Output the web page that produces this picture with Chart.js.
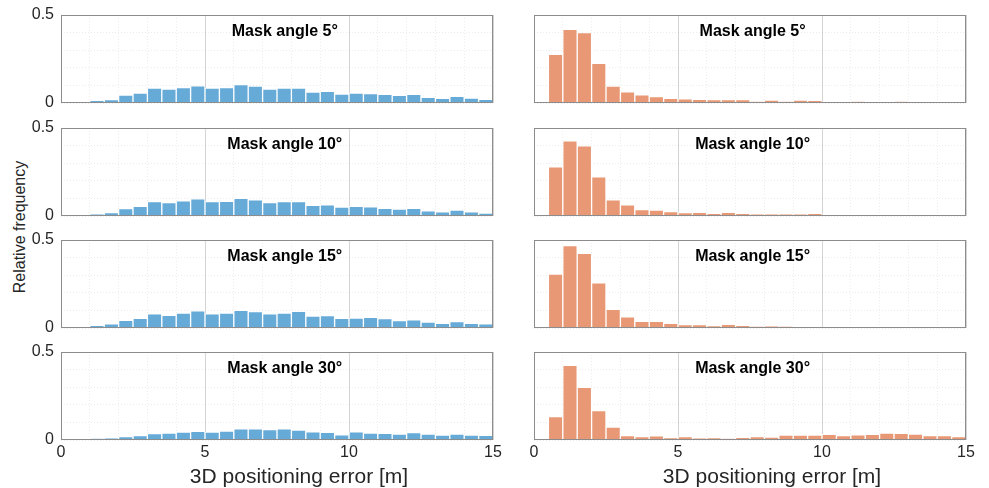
<!DOCTYPE html>
<html>
<head>
<meta charset="utf-8">
<script src="https://cdn.jsdelivr.net/npm/chart.js@4.4.1/dist/chart.umd.min.js"></script>
<style>
html, body { margin: 0; padding: 0; background: #fff; }
#fig { position: relative; width: 989px; height: 488px; overflow: hidden; background: #fff; }
#fig canvas { position: absolute; }
#ylabel {
    position: absolute; left: 20px; top: 227px;
    transform: translate(-50%, -50%) rotate(-90deg);
    font: 16px 'Liberation Sans', Arial, sans-serif; color: #262626; white-space: nowrap;
}
</style>
</head>
<body>
<div id="fig"><div id="ylabel">Relative frequency</div></div>
<script>
// bin centres of the 0.5 m histogram bins [m]
const binCenters = [0.25, 0.75, 1.25, 1.75, 2.25, 2.75, 3.25, 3.75, 4.25, 4.75,
    5.25, 5.75, 6.25, 6.75, 7.25, 7.75, 8.25, 8.75, 9.25, 9.75,
    10.25, 10.75, 11.25, 11.75, 12.25, 12.75, 13.25, 13.75, 14.25, 14.75];

const maskTitles = ['Mask angle 5°', 'Mask angle 10°', 'Mask angle 15°', 'Mask angle 30°'];
const xTickLabels = ['0', '5', '10', '15'];
const yTickLabels = ['0', '0.5'];
const xAxisTitle = '3D positioning error [m]';

// left column (blue)
const blue5 = [0, 0.006, 0.015, 0.020, 0.045, 0.057, 0.085, 0.079, 0.087, 0.098, 0.085, 0.087, 0.104, 0.096, 0.079, 0.085, 0.085, 0.062, 0.066, 0.051, 0.057, 0.053, 0.049, 0.043, 0.049, 0.032, 0.026, 0.038, 0.028, 0.021];
const blue10 = [0, 0.006, 0.011, 0.019, 0.042, 0.055, 0.082, 0.076, 0.086, 0.097, 0.082, 0.084, 0.101, 0.092, 0.076, 0.082, 0.082, 0.061, 0.063, 0.050, 0.055, 0.052, 0.044, 0.040, 0.044, 0.029, 0.023, 0.034, 0.023, 0.017];
const blue15 = [0, 0.006, 0.015, 0.023, 0.044, 0.055, 0.081, 0.072, 0.085, 0.098, 0.080, 0.085, 0.100, 0.093, 0.080, 0.085, 0.095, 0.068, 0.070, 0.055, 0.057, 0.061, 0.053, 0.042, 0.047, 0.034, 0.027, 0.036, 0.027, 0.023];
const blue30 = [0, 0.004, 0.008, 0.011, 0.019, 0.025, 0.036, 0.040, 0.045, 0.049, 0.045, 0.051, 0.063, 0.063, 0.059, 0.064, 0.057, 0.047, 0.044, 0.030, 0.047, 0.040, 0.038, 0.034, 0.042, 0.034, 0.028, 0.034, 0.028, 0.027];

// right column (orange)
const orange5 = [0, 0.276, 0.419, 0.400, 0.226, 0.096, 0.064, 0.047, 0.036, 0.026, 0.023, 0.021, 0.019, 0.019, 0.019, 0.008, 0.017, 0.008, 0.017, 0.015, 0.006, 0.006, 0.008, 0.002, 0.002, 0.008, 0.002, 0.002, 0.002, 0.002];
const orange10 = [0, 0.280, 0.427, 0.399, 0.223, 0.092, 0.063, 0.036, 0.034, 0.025, 0.019, 0.021, 0.015, 0.021, 0.015, 0.010, 0.011, 0.010, 0.011, 0.015, 0.004, 0.002, 0.006, 0.002, 0.006, 0.006, 0.002, 0.002, 0.006, 0.006];
const orange15 = [0, 0.307, 0.468, 0.424, 0.256, 0.106, 0.064, 0.038, 0.038, 0.027, 0.019, 0.019, 0.013, 0.021, 0.015, 0.009, 0.011, 0.009, 0.006, 0.006, 0.002, 0, 0.002, 0, 0.002, 0.002, 0, 0, 0, 0.002];
const orange30 = [0.006, 0.133, 0.424, 0.299, 0.167, 0.074, 0.025, 0.019, 0.023, 0.013, 0.019, 0.011, 0.013, 0.008, 0.015, 0.019, 0.017, 0.028, 0.028, 0.028, 0.032, 0.025, 0.030, 0.032, 0.040, 0.038, 0.034, 0.025, 0.025, 0.019];

const blueSeries = [blue5, blue10, blue15, blue30];
const orangeSeries = [orange5, orange10, orange15, orange30];

Chart.defaults.font.family = "'Liberation Sans', Arial, sans-serif";
Chart.defaults.color = '#262626';

const fig = document.getElementById('fig');
const rowTops = [3, 116, 228, 340];

// frame, panel title and (bottom row) x-axis label
const panelDecor = {
    id: 'panelDecor',
    afterDraw(chart, args, opts) {
        const { ctx, chartArea: a } = chart;
        const w = a.right - a.left;
        ctx.save();
        ctx.strokeStyle = '#8c8c8c';
        ctx.lineWidth = 1;
        ctx.strokeRect(Math.round(a.left) + 0.5, Math.round(a.top) + 0.5,
            Math.round(w) - 1, Math.round(a.bottom - a.top) - 1);
        ctx.fillStyle = '#000';
        ctx.font = "bold 16px 'Liberation Sans', Arial, sans-serif";
        ctx.textAlign = 'center';
        ctx.textBaseline = 'middle';
        ctx.fillText(opts.text, a.left + opts.titleFrac * w, a.top + 17);
        if (opts.xTitle) {
            ctx.fillStyle = '#262626';
            ctx.font = "21px 'Liberation Sans', Arial, sans-serif";
            ctx.fillText(opts.xTitle, a.left + w / 2 + 22, a.bottom + 37);
        }
        ctx.restore();
    }
};

function makePanel(col, row) {
    const bottomRow = row === 3;
    const canvas = document.createElement('canvas');
    const w = col === 0 ? 520 : 489;
    const h = bottomRow ? 148 : 112;
    canvas.width = w;
    canvas.height = h;
    canvas.style.left = (col === 0 ? 0 : 500) + 'px';
    canvas.style.top = rowTops[row] + 'px';
    fig.appendChild(canvas);

    const values = col === 0 ? blueSeries[row] : orangeSeries[row];
    const fill = col === 0 ? 'rgb(102,170,215)' : 'rgb(232,152,117)';

    new Chart(canvas, {
        type: 'bar',
        data: {
            datasets: [{
                data: binCenters.map((c, i) => ({ x: c, y: values[i] })),
                backgroundColor: fill,
                borderColor: 'rgba(255,255,255,0.85)',
                borderWidth: 1,
                barPercentage: 1,
                categoryPercentage: 1
            }]
        },
        options: {
            responsive: false,
            animation: false,
            devicePixelRatio: 1,
            layout: {
                padding: {
                    left: col === 0 ? 0 : 34,
                    right: col === 0 ? 27 : 23,
                    top: 12,
                    bottom: bottomRow ? 0 : 12
                }
            },
            plugins: {
                legend: { display: false },
                tooltip: { enabled: false },
                panelDecor: {
                    text: maskTitles[row],
                    titleFrac: col === 0 ? 0.518 : 0.506,
                    xTitle: bottomRow ? xAxisTitle : null
                }
            },
            scales: {
                x: {
                    type: 'linear',
                    min: 0,
                    max: 15,
                    offset: false,
                    afterFit: (s) => {
                        s.height = bottomRow ? 48 : 0;
                        s.paddingLeft = 0;
                        s.paddingRight = 0;
                    },
                    ticks: {
                        display: bottomRow,
                        stepSize: 1,
                        autoSkip: false,
                        maxRotation: 0,
                        padding: 3,
                        font: { size: 16 },
                        callback: (v) => (v % 5 === 0 ? xTickLabels[v / 5] : '')
                    },
                    grid: {
                        offset: false,
                        drawTicks: false,
                        color: (ctx) => (ctx.tick && ctx.tick.value % 5 === 0 ? 'rgba(0,0,0,0.17)' : 'rgba(0,0,0,0.07)')
                    },
                    border: {
                        display: false,
                        dash: (ctx) => (ctx.tick && ctx.tick.value % 5 === 0 ? [] : [1, 2])
                    }
                },
                y: {
                    min: 0,
                    max: 0.5,
                    afterFit: (s) => {
                        s.width = col === 0 ? 61 : 0;
                        s.paddingTop = 0;
                        s.paddingBottom = 0;
                    },
                    ticks: {
                        display: col === 0,
                        stepSize: 0.1,
                        autoSkip: false,
                        padding: 7,
                        font: { size: 16 },
                        callback: (v) => (Math.abs(v) < 1e-9 ? yTickLabels[0] : Math.abs(v - 0.5) < 1e-9 ? yTickLabels[1] : '')
                    },
                    grid: {
                        offset: false,
                        drawTicks: false,
                        color: 'rgba(0,0,0,0.08)'
                    },
                    border: { display: false, dash: [1, 2] }
                }
            }
        },
        plugins: [panelDecor]
    });
}

for (let row = 0; row < 4; row++) {
    makePanel(0, row);
    makePanel(1, row);
}
</script>
</body>
</html>
